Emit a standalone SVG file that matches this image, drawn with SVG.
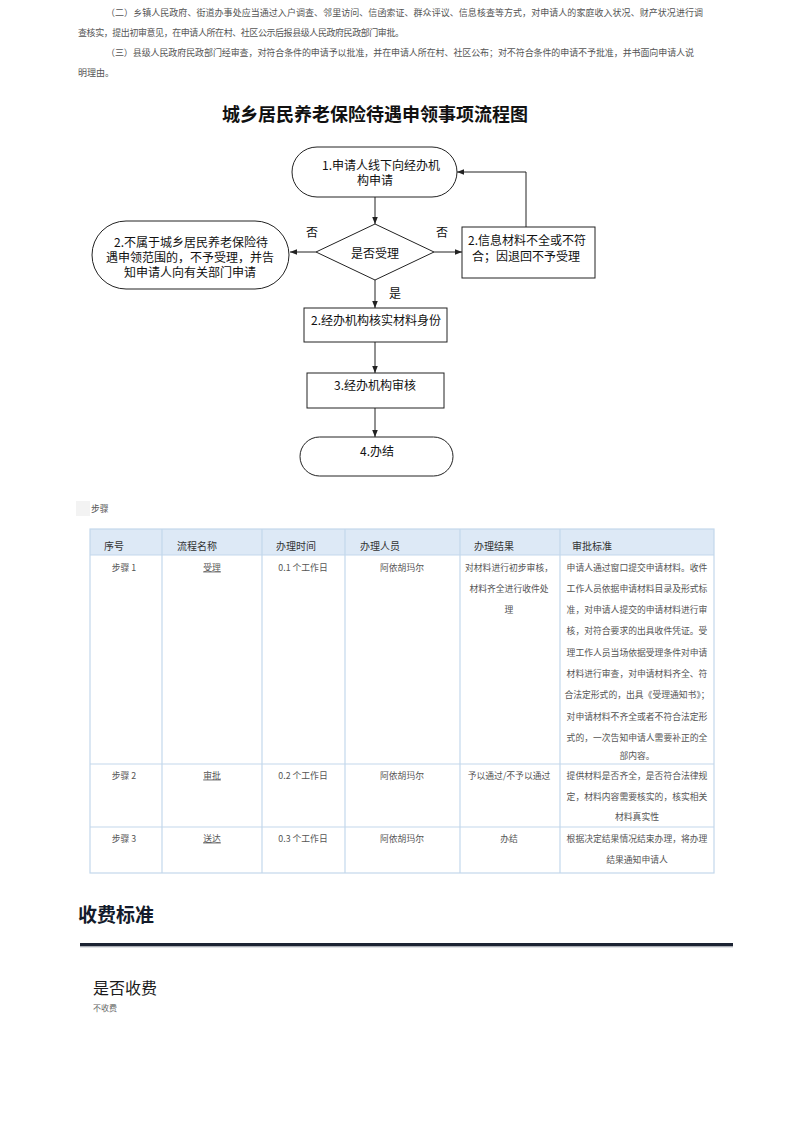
<svg xmlns="http://www.w3.org/2000/svg" width="793" height="1122" viewBox="0 0 793 1122">
<style>
.para{font-family:"Noto Sans CJK SC","Liberation Sans",sans-serif;font-size:9px;fill:#555}
.title{font-family:"Noto Sans CJK SC",sans-serif;font-size:18px;font-weight:bold;fill:#111}
.fc{font-family:"Noto Sans CJK SC","Liberation Sans",sans-serif;font-size:12px;fill:#111}
.shape{fill:#fff;stroke:#222;stroke-width:1}
.conn{fill:none;stroke:#222;stroke-width:1}
.th{font-family:"Noto Sans CJK SC",sans-serif;font-size:10px;fill:#333}
.td{font-family:"Noto Sans CJK SC",sans-serif;font-size:8.8px;fill:#555}
.grid{stroke:#c3d8ec;stroke-width:1.2;fill:none}
</style>
<defs>
<marker id="ah" viewBox="0 0 10 10" refX="10" refY="5" markerWidth="7" markerHeight="7" orient="auto" markerUnits="userSpaceOnUse">
<path d="M0,1 L10,5 L0,9 z" fill="#222"/>
</marker>
</defs>
<rect width="793" height="1122" fill="#fff"/>

<g id="paragraphs">
<text class="para" x="106" y="16" textLength="597" lengthAdjust="spacing">（二）乡镇人民政府、街道办事处应当通过入户调查、邻里访问、信函索证、群众评议、信息核查等方式，对申请人的家庭收入状况、财产状况进行调</text>
<text class="para" x="78" y="36" textLength="326" lengthAdjust="spacing">查核实，提出初审意见，在申请人所在村、社区公示后报县级人民政府民政部门审批。</text>
<text class="para" x="106" y="56" textLength="588" lengthAdjust="spacing">（三）县级人民政府民政部门经审查，对符合条件的申请予以批准，并在申请人所在村、社区公布；对不符合条件的申请不予批准，并书面向申请人说</text>
<text class="para" x="78" y="76">明理由。</text>
</g>

<text class="title" x="375" y="121" text-anchor="middle" textLength="306" lengthAdjust="spacing">城乡居民养老保险待遇申领事项流程图</text>

<g id="connectors">
<line class="conn" x1="375" y1="197" x2="375" y2="224" marker-end="url(#ah)"/>
<line class="conn" x1="316" y1="252" x2="290" y2="252" marker-end="url(#ah)"/>
<line class="conn" x1="434" y1="252" x2="462" y2="252" marker-end="url(#ah)"/>
<polyline class="conn" points="526,227 526,172 457,172" marker-end="url(#ah)"/>
<line class="conn" x1="375" y1="280" x2="375" y2="308" marker-end="url(#ah)"/>
<line class="conn" x1="375" y1="342" x2="375" y2="373" marker-end="url(#ah)"/>
<line class="conn" x1="375" y1="408" x2="375" y2="437" marker-end="url(#ah)"/>
<text class="fc" x="312" y="231" text-anchor="middle" dominant-baseline="central">否</text>
<text class="fc" x="442" y="231" text-anchor="middle" dominant-baseline="central">否</text>
<text class="fc" x="395" y="292" text-anchor="middle" dominant-baseline="central">是</text>
</g>

<g id="n1">
<rect class="shape" x="292" y="147" width="165" height="50" rx="25" ry="25"/>
<text class="fc" x="381" y="164" text-anchor="middle" dominant-baseline="central">1.申请人线下向经办机</text>
<text class="fc" x="375" y="179" text-anchor="middle" dominant-baseline="central">构申请</text>
</g>

<g id="decision">
<polygon class="shape" points="375,224 434,252 375,280 316,252"/>
<text class="fc" x="375" y="252" text-anchor="middle" dominant-baseline="central">是否受理</text>
</g>

<g id="n2-left">
<rect class="shape" x="92" y="221" width="197" height="68" rx="34" ry="34"/>
<text class="fc" x="191" y="241" text-anchor="middle" dominant-baseline="central">2.不属于城乡居民养老保险待</text>
<text class="fc" x="190" y="256" text-anchor="middle" dominant-baseline="central">遇申领范围的，不予受理，并告</text>
<text class="fc" x="190" y="271" text-anchor="middle" dominant-baseline="central">知申请人向有关部门申请</text>
</g>

<g id="n2-right">
<rect class="shape" x="462" y="227" width="133" height="51"/>
<text class="fc" x="527" y="239" text-anchor="middle" dominant-baseline="central">2.信息材料不全或不符</text>
<text class="fc" x="526" y="255" text-anchor="middle" dominant-baseline="central">合；因退回不予受理</text>
</g>

<g id="n2-verify">
<rect class="shape" x="304" y="308" width="143" height="34"/>
<text class="fc" x="376" y="319" text-anchor="middle" dominant-baseline="central">2.经办机构核实材料身份</text>
</g>

<g id="n3">
<rect class="shape" x="307" y="373" width="137" height="35"/>
<text class="fc" x="375" y="384" text-anchor="middle" dominant-baseline="central">3.经办机构审核</text>
</g>

<g id="n4">
<rect class="shape" x="300" y="437" width="153" height="39" rx="19.5" ry="19.5"/>
<text class="fc" x="377" y="450" text-anchor="middle" dominant-baseline="central">4.办结</text>
</g>

<g id="steps-label">
<rect x="76" y="501" width="14" height="15" fill="#f3f3f3"/>
<text class="td" x="91" y="512">步骤</text>
</g>

<g id="table">
<rect x="90" y="529" width="624" height="26" fill="#dde9f6"/>
<rect class="grid" x="90" y="529" width="624" height="344"/>
<line class="grid" x1="90" y1="555" x2="714" y2="555"/>
<line class="grid" x1="90" y1="764" x2="714" y2="764"/>
<line class="grid" x1="90" y1="827" x2="714" y2="827"/>
<line class="grid" x1="162" y1="529" x2="162" y2="873"/>
<line class="grid" x1="262" y1="529" x2="262" y2="873"/>
<line class="grid" x1="345" y1="529" x2="345" y2="873"/>
<line class="grid" x1="460" y1="529" x2="460" y2="873"/>
<line class="grid" x1="560" y1="529" x2="560" y2="873"/>
<g dominant-baseline="central">
<text class="th" x="104" y="545">序号</text>
<text class="th" x="177" y="545">流程名称</text>
<text class="th" x="276" y="545">办理时间</text>
<text class="th" x="360" y="545">办理人员</text>
<text class="th" x="474" y="545">办理结果</text>
<text class="th" x="572" y="545">审批标准</text>
</g>
<g text-anchor="middle" dominant-baseline="central">
<text class="td" x="124" y="567">步骤 1</text>
<text class="td" x="212" y="567" text-decoration="underline">受理</text>
<text class="td" x="303" y="567">0.1 个工作日</text>
<text class="td" x="402" y="567">阿依胡玛尔</text>
<text class="td" x="509" y="567">对材料进行初步审核，</text>
<text class="td" x="509" y="588">材料齐全进行收件处</text>
<text class="td" x="509" y="609">理</text>
<text class="td" x="637" y="567">申请人通过窗口提交申请材料。收件</text>
<text class="td" x="637" y="588">工作人员依据申请材料目录及形式标</text>
<text class="td" x="637" y="609">准，对申请人提交的申请材料进行审</text>
<text class="td" x="637" y="630">核，对符合要求的出具收件凭证。受</text>
<text class="td" x="637" y="652">理工作人员当场依据受理条件对申请</text>
<text class="td" x="637" y="673">材料进行审查，对申请材料齐全、符</text>
<text class="td" x="637" y="694">合法定形式的，出具《受理通知书》；</text>
<text class="td" x="637" y="716">对申请材料不齐全或者不符合法定形</text>
<text class="td" x="637" y="737">式的，一次告知申请人需要补正的全</text>
<text class="td" x="637" y="755">部内容。</text>

<text class="td" x="124" y="775">步骤 2</text>
<text class="td" x="212" y="775" text-decoration="underline">审批</text>
<text class="td" x="303" y="775">0.2 个工作日</text>
<text class="td" x="402" y="775">阿依胡玛尔</text>
<text class="td" x="509" y="775">予以通过/不予以通过</text>
<text class="td" x="637" y="775">提供材料是否齐全，是否符合法律规</text>
<text class="td" x="637" y="796">定，材料内容需要核实的，核实相关</text>
<text class="td" x="637" y="816">材料真实性</text>

<text class="td" x="124" y="838">步骤 3</text>
<text class="td" x="212" y="838" text-decoration="underline">送达</text>
<text class="td" x="303" y="838">0.3 个工作日</text>
<text class="td" x="402" y="838">阿依胡玛尔</text>
<text class="td" x="509" y="838">办结</text>
<text class="td" x="637" y="838">根据决定结果情况结束办理，将办理</text>
<text class="td" x="637" y="859">结果通知申请人</text>
</g>
</g>

<g id="fees">
<text x="78" y="922" font-family="Noto Sans CJK SC, sans-serif" font-size="19" font-weight="bold" fill="#141b2b">收费标准</text>
<rect x="80" y="943" width="653" height="3.5" fill="#1c2333"/>
<line x1="80" y1="947" x2="733" y2="947" stroke="#c9ccd2" stroke-width="1"/>
<text x="93" y="994" font-family="Noto Sans CJK SC, sans-serif" font-size="16" fill="#1a1a1a">是否收费</text>
<text x="93" y="1011" font-family="Noto Sans CJK SC, sans-serif" font-size="8" fill="#666">不收费</text>
</g>
</svg>
